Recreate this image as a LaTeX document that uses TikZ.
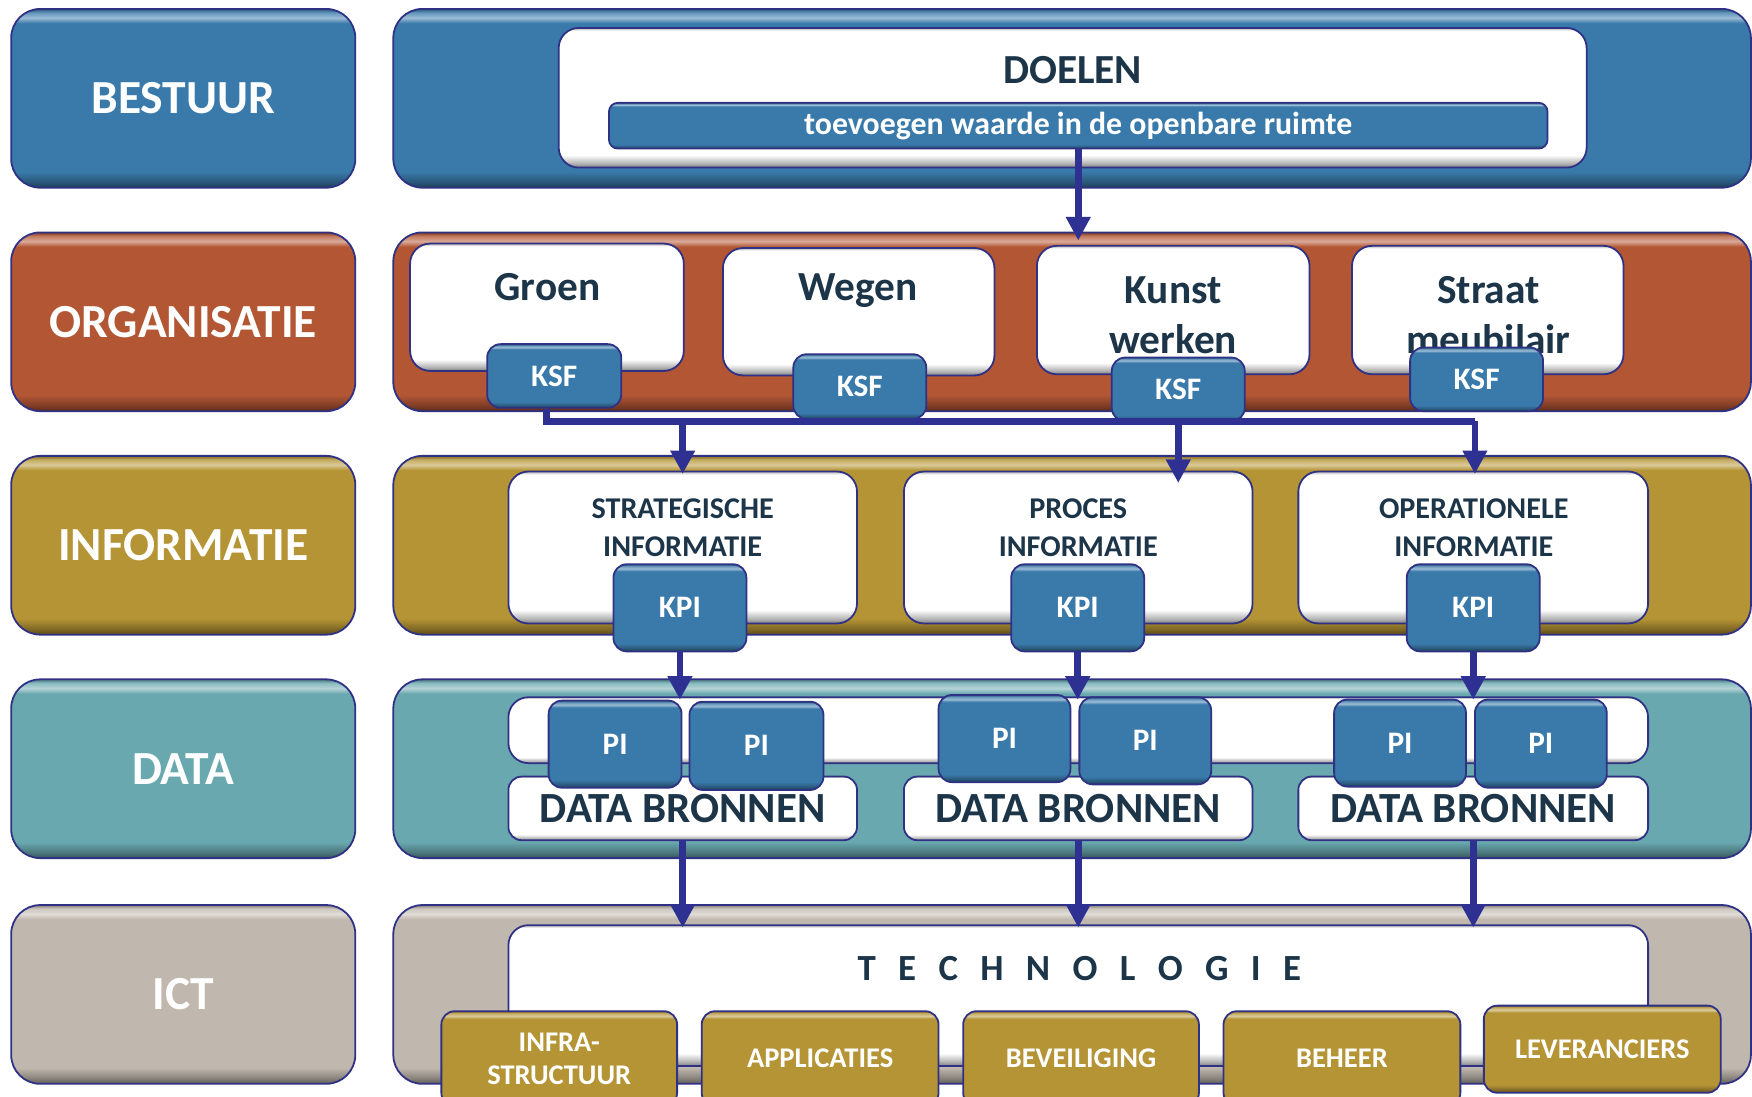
\documentclass[tikz,border=0pt]{standalone}
\usepackage{fontspec}
\setmainfont{Carlito}
\usetikzlibrary{arrows.meta}
\definecolor{cblue}{HTML}{3A7AAA}
\definecolor{corange}{HTML}{B35634}
\definecolor{cgold}{HTML}{B59435}
\definecolor{cteal}{HTML}{69A8AF}
\definecolor{cbeige}{HTML}{C0B8AE}
\definecolor{edge}{HTML}{2F3185}
\definecolor{connc}{HTML}{2E3192}
\definecolor{ink}{HTML}{1D3548}
\colorlet{bevbase}{cblue}
\pgfdeclareverticalshading[bevbase]{bevel}{100bp}{%
 color(0bp)=(bevbase!50!black);
 color(25bp)=(bevbase!50!black);
 color(26.5bp)=(bevbase!70!black);
 color(29.5bp)=(bevbase);
 color(71bp)=(bevbase);
 color(72.5bp)=(bevbase!50!white);
 color(74bp)=(bevbase!80!white);
 color(75bp)=(bevbase!70!black);
 color(100bp)=(bevbase!70!black)}
\newcommand\mkbox[7]{\node[#2, minimum width={(#5)-(#3)}, minimum height={(#6)-(#4)}] (#1) at ({((#3)+(#5))/2},{((#4)+(#6))/2}) {#7};}
\tikzset{
 bev/.code={\colorlet{bevbase}{#1}},
 boxbase/.style={draw=edge, line width=1.6pt, shade, shading=bevel, inner sep=0pt, align=center},
 lay/.style={boxbase, bev=#1, rounded corners=26pt, text=white, font=\bfseries\fontsize{42.5}{46}\selectfont},
 layr/.style={boxbase, bev=#1, rounded corners=26pt},
 wbox/.style={boxbase, bev=white, rounded corners=18pt, text=ink, font=\bfseries\fontsize{38.5}{40}\selectfont},
 tag/.style={boxbase, bev=#1, rounded corners=12pt, text=white, font=\bfseries\fontsize{28}{30}\selectfont},
 gtag/.style={boxbase, bev=cgold, rounded corners=12pt, text=white, font=\bfseries\fontsize{25.5}{30}\selectfont},
 txt/.style={text=ink, inner sep=0pt, align=center, font=\bfseries\fontsize{37}{45}\selectfont},
 itxt/.style={text=ink, inner sep=0pt, align=center, font=\bfseries\fontsize{27}{34}\selectfont},
 wire/.style={draw=connc, line width=6pt},
 conn/.style={wire, -{Triangle[length=21pt,width=21pt]}, shorten >=-3pt}
}
\begin{document}
\begin{tikzpicture}[x=1pt,y=-1pt]
\useasboundingbox (0,0) rectangle (1568,981);
\clip (0,0) rectangle (1568,981);
\fill[white] (0,0) rectangle (1568,981);
% left labels
\mkbox{lbest}{lay=cblue}{10}{8}{318}{168}{BESTUUR}
\mkbox{lorg}{lay=corange}{10}{208}{318}{368}{ORGANISATIE}
\mkbox{linf}{lay=cgold}{10}{408}{318}{568}{INFORMATIE}
\mkbox{ldat}{lay=cteal}{10}{608}{318}{768}{DATA}
\mkbox{lict}{lay=cbeige}{10}{810}{318}{970}{ICT}
% right layers
\mkbox{rbest}{layr=cblue}{352}{8}{1567}{168}{}
\mkbox{rorg}{layr=corange}{352}{208}{1567}{368}{}
\mkbox{rinf}{layr=cgold}{352}{408}{1567}{568}{}
\mkbox{rdat}{layr=cteal}{352}{608}{1567}{768}{}
\mkbox{rict}{layr=cbeige}{352}{810}{1567}{970}{}
% row 1
\mkbox{doel}{wbox}{500}{25}{1420}{150}{}
\node[txt] (doeltxt) at (960,63) {DOELEN};
\mkbox{doelbar}{tag=cblue, rounded corners=8pt, font=\bfseries\fontsize{28.5}{30}\selectfont}{545}{92}{1385}{133}{toevoegen waarde in de openbare ruimte}
% row 2
\mkbox{groen}{wbox}{367}{218}{612}{332}{}
\node[txt] (groentxt) at (490,257) {Groen};
\mkbox{wegen}{wbox}{647}{222}{890}{336}{}
\node[txt] (wegentxt) at (768,260) {Wegen};
\mkbox{kunst}{wbox}{928}{220}{1172}{335}{}
\node[txt] (kunsttxt) at (1050,282) {Kunst\\werken};
\mkbox{straat}{wbox}{1210}{220}{1453}{335}{}
\node[txt] (straattxt) at (1332,282) {Straat\\meubilair};
\mkbox{ksf1}{tag=cblue}{436}{308}{556}{365}{KSF}
\mkbox{ksf2}{tag=cblue}{710}{317}{829}{375}{KSF}
\mkbox{ksf3}{tag=cblue}{995}{320}{1114}{377}{KSF}
\mkbox{ksf4}{tag=cblue}{1262}{311}{1381}{368}{KSF}
% row 3
\mkbox{strat}{wbox}{455}{422}{767}{558}{}
\node[itxt] (strattxt) at (611,472) {STRATEGISCHE\\INFORMATIE};
\mkbox{proc}{wbox}{809}{422}{1121}{558}{}
\node[itxt] (proctxt) at (965,472) {PROCES\\INFORMATIE};
\mkbox{oper}{wbox}{1162}{422}{1475}{558}{}
\node[itxt] (opertxt) at (1319,472) {OPERATIONELE\\INFORMATIE};
\mkbox{kpi1}{tag=cblue}{549}{505}{668}{583}{KPI}
\mkbox{kpi2}{tag=cblue}{905}{505}{1024}{583}{KPI}
\mkbox{kpi3}{tag=cblue}{1259}{505}{1378}{583}{KPI}
% row 4
\mkbox{strip}{wbox}{455}{624}{1475}{683}{}
\mkbox{db1}{wbox, rounded corners=12pt}{455}{695}{767}{752}{DATA BRONNEN}
\mkbox{db2}{wbox, rounded corners=12pt}{809}{695}{1121}{752}{DATA BRONNEN}
\mkbox{db3}{wbox, rounded corners=12pt}{1162}{695}{1475}{752}{DATA BRONNEN}
\mkbox{pi1}{tag=cblue}{491}{627}{610}{705}{PI}
\mkbox{pi2}{tag=cblue}{617}{628}{737}{707}{PI}
\mkbox{pi3}{tag=cblue}{840}{622}{958}{700}{PI}
\mkbox{pi4}{tag=cblue}{966}{624}{1084}{702}{PI}
\mkbox{pi5}{tag=cblue}{1194}{626}{1312}{704}{PI}
\mkbox{pi6}{tag=cblue}{1320}{626}{1438}{705}{PI}
% row 5
\mkbox{tech}{wbox}{455}{828}{1475}{954}{}
\node[txt, font=\bfseries\fontsize{33}{36}\selectfont] (techtxt) at (966,867) {\spaceskip=20pt T E C H N O L O G I E};
\mkbox{g1}{gtag}{395}{905}{606}{990}{INFRA-\\STRUCTUUR}
\mkbox{g2}{gtag}{628}{905}{840}{990}{APPLICATIES}
\mkbox{g3}{gtag}{862}{905}{1073}{990}{BEVEILIGING}
\mkbox{g4}{gtag}{1095}{905}{1307}{990}{BEHEER}
\mkbox{g5}{gtag}{1328}{900}{1540}{978}{LEVERANCIERS}
% connectors
\draw[conn, shorten >=-8pt] (doelbar.south) -- (doelbar.south |- rorg.north);
\coordinate (busE) at (1320,377);
\draw[wire] ([xshift=-7pt]ksf1.south) |- (busE);
\draw[conn] (busE) -- (busE |- oper.north);
\draw[conn] (strat.north |- busE) -- (strat.north);
\draw[conn] (ksf3.south) -- ([yshift=-8pt]ksf3.south |- proc.north);
\draw[conn] (kpi1.south) -- (kpi1.south |- strip.north);
\draw[conn] (kpi2.south) -- (kpi2.south |- strip.north);
\draw[conn] (kpi3.south) -- (kpi3.south |- strip.north);
\draw[conn] (db1.south) -- (db1.south |- tech.north);
\draw[conn] (db2.south) -- (db2.south |- tech.north);
\draw[conn] (db3.south) -- (db3.south |- tech.north);
\end{tikzpicture}
\end{document}
